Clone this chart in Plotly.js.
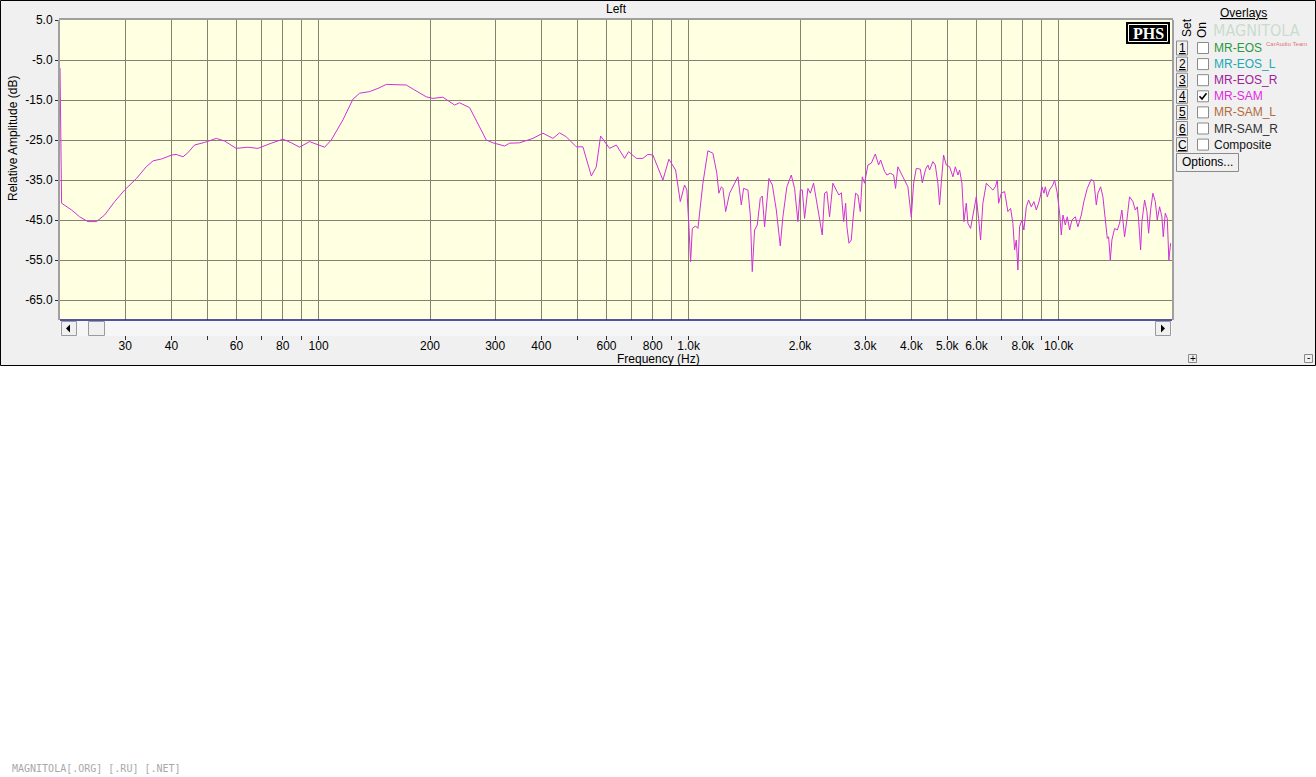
<!DOCTYPE html>
<html><head><meta charset="utf-8">
<script src="https://cdn.plot.ly/plotly-3.0.1.min.js"></script>
<style>html,body{margin:0;padding:0;background:#fff;}#chart{width:1316px;height:777px;}</style>
</head><body><div id="chart"></div>
<script>
// ---- data ----
const freqHz = [20.0,20.2,21.5,22.6,23.8,25.1,26.4,28.1,29.9,32.2,34.2,35.7,37.6,40.1,41.2,43.0,44.3,46.2,49.2,52.9,55.7,59.9,64.4,68.5,74.5,80.1,84.4,88.8,94.5,99.6,103.8,108.2,116.3,123.8,129.1,137.3,144.7,152.4,162.2,172.6,181.7,195.4,203.7,216.7,233.0,240.4,255.9,266.8,283.9,295.8,318.2,328.2,349.3,379.4,403.8,429.8,448.0,467.1,497,518,545.8,563,578.2,611.5,637.7,671.5,688.4,722.2,752.3,776.1,800.7,852.1,884.5,922.1,949.4,975.1,989.3,1002,1012.5,1023.3,1044.5,1059.6,1093,1127.5,1163,1192,1207,1226,1238,1259,1290.7,1331.5,1359.2,1388,1408,1446.6,1467.9,1486,1507.6,1533,1562,1581.6,1604.8,1648.4,1683.6,1726,1769,1798,1843,1894.5,1933.7,1974,2004,2029,2058,2101,2132.5,2176,2213,2249,2269,2297,2330,2364,2404,2454,2506,2548,2587,2624,2657,2678,2712,2752,2780,2827,2868,2911,2947,2989,3052,3117,3196,3262,3303,3386,3435,3508,3581,3625,3677,3733,3810,3858,3914,3998,4056,4124,4229,4282,4370,4433,4480,4574,4641,4717,4767,4818,4887,4970,5075,5180,5258,5344,5400,5478,5547,5630,5686,5782,5902,5991,6077,6153,6242,6377,6509,6644,6745,6829,6884,7000,7145,7293,7417,7523,7604,7684,7761,7843,7958,8057,8179,8297,8437,8575,8703,8829,8939,9011,9127,9205,9320,9452,9649,9751,9916,10062,10169,10271,10426,10556,10708,10863,11094,11275,11515,11703,11953,12254,12455,12644,12770,12987,13174,13372,13539,13649,13794,13932,14168,14408,14614,14825,15075,15293,15551,15879,16117,16320,16452,16657,16794,17076,17323,17507,17725,17981,18250,18478,18745,19014,19181,19421,19664,19861,20078];
const levelDb = [-7,-40.8,-42.5,-44.2,-45.4,-45.4,-43.75,-40.4,-37.5,-34.6,-31.7,-30.2,-29.75,-28.75,-28.6,-29.2,-28.2,-26.25,-25.6,-24.6,-25.25,-27.1,-26.8,-27.1,-25.8,-24.8,-25.7,-26.8,-25.4,-26.25,-26.8,-25,-20,-14.8,-13.3,-12.9,-12.1,-11.1,-11.25,-11.25,-12.5,-14.2,-14.6,-14.3,-16.25,-15.7,-16.9,-20,-25,-25.7,-26.5,-25.8,-25.7,-24.6,-23.3,-24.6,-23.2,-24.2,-26.7,-26.7,-34,-31.7,-24,-27.1,-26.25,-29.6,-27.9,-29.6,-29.6,-28.6,-28.75,-35,-29.8,-32.5,-40.4,-36.25,-37.5,-46.7,-55.4,-47.1,-46.5,-47.1,-35.8,-27.7,-28.3,-33.3,-38.3,-36.7,-37.1,-42.9,-38.3,-35.8,-34.2,-41.25,-37.1,-37.5,-43.75,-57.9,-47.5,-46.25,-39.6,-39,-46.7,-34.6,-36.25,-42.5,-51.5,-44.2,-36.7,-33.75,-37.1,-45.4,-37.5,-37.5,-44.6,-37.1,-38.3,-35.8,-39.6,-44.2,-45.4,-48.75,-38.3,-37.9,-44.2,-35.8,-37.5,-38.75,-38.2,-45.4,-40.8,-46.7,-50.8,-50,-45,-38.3,-38.75,-42.9,-34.2,-35.8,-31.25,-30.8,-28.5,-31.25,-30,-32.9,-33.75,-33.3,-33.75,-37.1,-31.7,-32.9,-34.2,-35.4,-36.7,-44.3,-35.8,-32.1,-32.3,-35.7,-32.3,-31.25,-32.5,-30.4,-31.25,-35.8,-41.25,-35.8,-28.75,-31.25,-31.7,-34.2,-31.7,-33.75,-32.5,-35.8,-45.4,-40.8,-45.8,-47.1,-42.5,-39.2,-44.6,-50,-40.8,-35.8,-36.7,-37.5,-36.7,-35,-40.8,-38.3,-37.9,-42.9,-42.1,-45.8,-52.5,-50,-57.5,-46.7,-45,-47.5,-41.7,-40,-41.7,-40.4,-42.5,-40.8,-38.75,-36.7,-38.3,-36.7,-39.2,-37.5,-36.25,-35,-38.3,-43.3,-48.75,-43.75,-46.25,-44.2,-47.5,-45,-44.2,-46.7,-43.75,-40.4,-37.1,-34.8,-35.4,-41.25,-38.3,-36.7,-39.2,-44.2,-49.6,-49.2,-55,-50,-47.1,-47.5,-45.8,-42.5,-49.2,-45,-39.2,-40.4,-42.5,-41.7,-45,-52.5,-45.4,-40,-42.9,-48.3,-42.5,-38.3,-40.4,-45,-41.7,-44.2,-49.2,-43.3,-44.6,-55,-50.8];
const yTickVals = [5,-5,-15,-25,-35,-45,-55,-65];
const yTickText = ['5.0','-5.0','-15.0','-25.0','-35.0','-45.0','-55.0','-65.0'];
const xTickVals = [30,40,50,60,70,80,90,100,200,300,400,500,600,700,800,900,1000,2000,3000,4000,5000,6000,7000,8000,9000,10000];
const xTickText = ['30','40','','60','','80','','100','200','300','400','','600','','800','','1.0k','2.0k','3.0k','4.0k','5.0k','6.0k','','8.0k','','10.0k'];
const overlaySets = ['1','2','3','4','5','6','C'];
const overlayNames = ['MR-EOS','MR-EOS_L','MR-EOS_R','MR-SAM','MR-SAM_L','MR-SAM_R','Composite'];
const overlayColors = ['#2a9a40','#22a8b4','#a0209c','#e02ce0','#b06c3c','#303030','#101010'];
const overlayOn = [false,false,false,true,false,false,false];

// ---- geometry helpers (pixel -> paper) ----
const L = 60, T = 20, W = 1112, H = 300;
const px = x => (x - L) / W;
const py = y => (T + H - y) / H;
const FONT = 'Liberation Sans, Arial, sans-serif';

function rect(x0, y0, x1, y1, fill, line, lw, layer) {
  return {type:'rect', xref:'paper', yref:'paper', x0:px(x0), x1:px(x1), y0:py(y0), y1:py(y1),
    fillcolor: fill, line:{color: line || 'rgba(0,0,0,0)', width: lw || 0}, layer: layer || 'above'};
}
function seg(x0, y0, x1, y1, color, lw, layer) {
  return {type:'line', xref:'paper', yref:'paper', x0:px(x0), x1:px(x1), y0:py(y0), y1:py(y1),
    line:{color: color, width: lw}, layer: layer || 'above'};
}
function path(pts, fill, layer) {
  const d = pts.map((p, i) => (i ? 'L' : 'M') + px(p[0]) + ',' + py(p[1])).join(' ') + (fill ? ' Z' : '');
  return {type:'path', xref:'paper', yref:'paper', path:d, fillcolor: fill || 'rgba(0,0,0,0)',
    line:{color: fill || '#000', width: fill ? 0 : 1.6}, layer: layer || 'above'};
}
function txt(x, y, text, opts) {
  return Object.assign({xref:'paper', yref:'paper', x:px(x), y:py(y), text:text, showarrow:false,
    xanchor:'center', yanchor:'middle', font:{family:FONT, size:12, color:'#000'}}, opts || {});
}

const shapes = [
  rect(0.5, 0.5, 1315.5, 365.5, '#f0f0f0', '#000', 1, 'below'),
  rect(60, 20, 1172, 320, '#ffffe1', null, 0, 'below'),
  // frame
  seg(59, 19, 1173, 19, '#a0a0a0', 2),
  // scrollbar
  rect(60, 320, 1172, 336, '#f6f6f6', null, 0),
  seg(60, 320, 1172, 320, '#1a1a8c', 1.5),
  rect(61.5, 321.5, 76.5, 335.5, '#f0f0f0', '#9a9a9a', 1),
  rect(88.5, 321.5, 104.5, 335.5, '#f0f0f0', '#9a9a9a', 1),
  rect(1155.5, 321.5, 1170.5, 335.5, '#f0f0f0', '#9a9a9a', 1),
  path([[70, 324.5], [66, 328.5], [70, 332.5]], '#000'),
  path([[1161, 324.5], [1165, 328.5], [1161, 332.5]], '#000'),
  // PHS logo
  rect(1126, 22, 1170, 44, '#000', null, 0),
  rect(1128.5, 24.5, 1167.5, 41.5, 'rgba(0,0,0,0)', '#fff', 1),
  // Options button
  rect(1176.5, 153.5, 1238.5, 171.5, '#f0f0f0', '#8a8a8a', 1),
  // +/- boxes
  rect(1188.5, 354.5, 1196.5, 362.5, '#f0f0f0', '#8a8a8a', 1),
  rect(1304.5, 354.5, 1312.5, 362.5, '#f0f0f0', '#8a8a8a', 1)
];

const annotations = [
  txt(616, 9, 'Left'),
  txt(658, 359, 'Frequency (Hz)'),
  txt(13, 139, 'Relative Amplitude (dB)', {textangle:-90}),
  txt(1243, 13, '<u>Overlays</u>'),
  txt(1256, 31, 'MAGNITOLA', {font:{family:'DejaVu Sans Condensed, sans-serif', size:16, color:'rgba(150,195,160,0.45)'}}),
  txt(1264, 44, 'CarAudio Team', {xanchor:'left', font:{family:FONT, size:6, color:'rgba(215,80,80,0.8)'}}),
  txt(1187, 28, 'Set', {textangle:-90}),
  txt(1202, 30, 'On', {textangle:-90}),
  txt(1148, 33, '<b>PHS</b>', {font:{family:'Liberation Serif, serif', size:16, color:'#fff'}}),
  txt(1207, 162, 'Options...'),
  txt(1192.5, 358, '+', {font:{family:FONT, size:10, color:'#000'}}),
  txt(1308.5, 357, '-', {font:{family:FONT, size:10, color:'#000'}}),
  txt(10, 768, 'MAGNITOLA[.ORG] [.RU] [.NET]', {xanchor:'left', font:{family:'DejaVu Sans Mono, monospace', size:10, color:'#a8a8a8'}})
];

overlaySets.forEach((s, i) => {
  const y = 48 + 16.1 * i;
  shapes.push(rect(1176.5, y - 7, 1187.5, y + 7, '#f0f0f0', '#8a8a8a', 1));
  shapes.push(rect(1197.5, y - 5.5, 1208.5, y + 5.5, '#fff', '#8a8a8a', 1));
  if (overlayOn[i]) shapes.push(path([[1199.5, y], [1202, y + 2.8], [1206.5, y - 3]], null));
  annotations.push(txt(1182, y, '<u>' + s + '</u>'));
  annotations.push(txt(1212, y, overlayNames[i], {xanchor:'left', font:{family:FONT, size:12, color:overlayColors[i]}}));
});

const trace = {
  type:'scatter', mode:'lines', x:freqHz, y:levelDb,
  line:{color:'#d030dc', width:1}, hoverinfo:'skip', showlegend:false
};

const layout = {
  width:1316, height:777, autosize:false,
  margin:{l:L, r:1316 - L - W, t:T, b:777 - T - H, pad:0},
  paper_bgcolor:'#ffffff', plot_bgcolor:'rgba(0,0,0,0)',
  showlegend:false,
  font:{family:FONT, size:12, color:'#000'},
  xaxis:{
    type:'log', range:[Math.log10(20), Math.log10(20) + W / 370],
    tickmode:'array', tickvals:xTickVals, ticktext:xTickText,
    ticks:'outside', ticklen:19, tickwidth:1, tickcolor:'#303030',
    showgrid:true, gridcolor:'#86826f', gridwidth:1,
    showline:false, zeroline:false, ticklabelstandoff:-4,
    tickfont:{family:FONT, size:12, color:'#000'}, fixedrange:true
  },
  yaxis:{
    range:[-70, 5], tickmode:'array', tickvals:yTickVals, ticktext:yTickText,
    ticks:'outside', ticklen:3, tickwidth:1, tickcolor:'#303030',
    showgrid:true, gridcolor:'#86826f', gridwidth:1,
    showline:true, mirror:true, linecolor:'#a0a0a0', linewidth:2,
    zeroline:false, tickfont:{family:FONT, size:12, color:'#000'}, fixedrange:true
  },
  shapes:shapes,
  annotations:annotations
};

Plotly.newPlot('chart', [trace], layout, {displayModeBar:false, staticPlot:true});
</script>
</body></html>
